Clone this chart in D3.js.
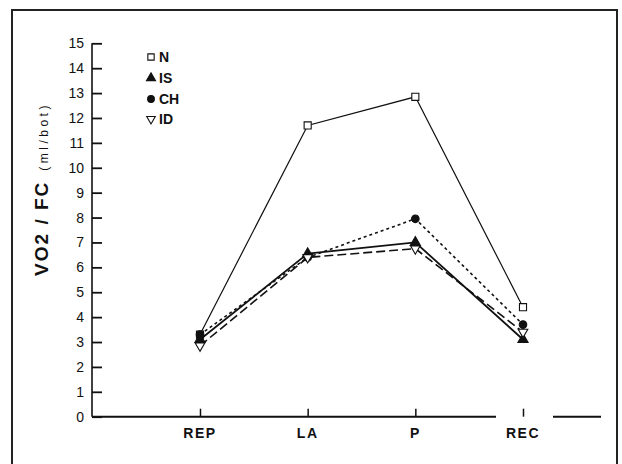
<!DOCTYPE html>
<html><head><meta charset="utf-8">
<script src="https://cdn.jsdelivr.net/npm/d3@7"></script>
<style>
html,body{margin:0;padding:0;background:#fff;}
svg{display:block;font-family:"Liberation Sans",Arial,sans-serif;}
</style></head>
<body><svg id="c" width="622" height="464"></svg>
<script>
const categories = ["REP","LA","P","REC"];
const yTicks = [0,1,2,3,4,5,6,7,8,9,10,11,12,13,14,15];
const seriesNames = ["N","IS","CH","ID"];
const valuesN  = [3.3, 11.7, 12.85, 4.4];
const valuesIS = [3.1, 6.55, 7.0, 3.1];
const valuesCH = [3.3, 6.4, 7.95, 3.7];
const valuesID = [2.85, 6.4, 6.75, 3.4];

const svg = d3.select("#c");
const x0 = 92, x1 = 601, yTop = 43.3, yBot = 416.7;
const y = d3.scaleLinear().domain([0,15]).range([yBot, yTop]);
const x = d3.scalePoint().domain(categories).range([200, 523]);

// frame
svg.append("path").attr("d","M12,464 L12,10 L617,10 L617,464")
  .attr("fill","none").attr("stroke","#222").attr("stroke-width",2);

// y axis
const ya = svg.append("g").attr("transform",`translate(${x0},0)`)
  .call(d3.axisRight(y).tickValues(yTicks).tickSize(10).tickFormat(""));
ya.select(".domain").remove();
ya.selectAll(".tick line").attr("stroke","#111").attr("stroke-width",1.8);
svg.append("line").attr("x1",x0).attr("x2",x0).attr("y1",yTop).attr("y2",yBot)
  .attr("stroke","#111").attr("stroke-width",1.6);
svg.append("g").selectAll("text").data(yTicks).join("text")
  .attr("x",84).attr("y",d=>y(d)+5).attr("text-anchor","end")
  .attr("font-size",14).attr("fill","#111").text(d=>d);

// x axis
svg.append("line").attr("x1",x0).attr("x2",496).attr("y1",yBot).attr("y2",yBot)
  .attr("stroke","#111").attr("stroke-width",2);
svg.append("line").attr("x1",553).attr("x2",x1).attr("y1",yBot).attr("y2",yBot)
  .attr("stroke","#111").attr("stroke-width",2);
const xa = svg.append("g").attr("transform",`translate(0,${yBot})`)
  .call(d3.axisTop(x).tickSize(8).tickFormat(""));
xa.select(".domain").remove();
xa.selectAll(".tick line").attr("stroke","#111").attr("stroke-width",1.5);
svg.append("g").selectAll("text").data(categories).join("text")
  .attr("x",d=>x(d)).attr("y",438).attr("text-anchor","middle")
  .attr("font-size",14).attr("font-weight","bold").attr("letter-spacing",1.5)
  .attr("fill","#111").text(d=>d);

// y title
const t = svg.append("text").attr("transform","translate(48,189) rotate(-90)")
  .attr("text-anchor","middle").attr("fill","#111");
t.append("tspan").attr("font-size",19).attr("font-weight","bold").attr("letter-spacing",2).text("VO2 / FC");
t.append("tspan").attr("font-size",12).attr("letter-spacing",3.5).attr("dx",10).text("(ml/bot)");

// series
const series = [
  {name:"N", vals:valuesN, dash:null, w:1.2, sym:d3.symbolSquare, fill:"#fff", size:50},
  {name:"IS", vals:valuesIS, dash:null, w:1.8, sym:d3.symbolTriangle, fill:"#111", size:45},
  {name:"CH", vals:valuesCH, dash:"3,3", w:1.6, sym:d3.symbolCircle, fill:"#111", size:45},
  {name:"ID", vals:valuesID, dash:"9,4", w:1.6, sym:d3.symbolTriangle, fill:"#fff", size:40, rot:180}
];
const line = d3.line().x((d,i)=>x(categories[i])).y(d=>y(d));
series.forEach(s=>{
  svg.append("path").datum(s.vals).attr("d",line).attr("fill","none")
    .attr("stroke","#111").attr("stroke-width",s.w)
    .attr("stroke-dasharray",s.dash);
});
series.forEach(s=>{
  svg.append("g").selectAll("path").data(s.vals).join("path")
    .attr("d",d3.symbol().type(s.sym).size(s.size))
    .attr("transform",(d,i)=>`translate(${x(categories[i])},${y(d)})${s.rot?` rotate(${s.rot})`:""}`)
    .attr("fill",s.fill).attr("stroke","#111").attr("stroke-width",1.1);
});

// legend
const lg = svg.append("g");
const ly = [57,78,99,119];
series.forEach((s,i)=>{
  lg.append("path").attr("d",d3.symbol().type(s.sym).size(s.size*0.8))
    .attr("transform",`translate(151,${ly[i]})${s.rot?` rotate(${s.rot})`:""}`)
    .attr("fill",s.fill).attr("stroke","#111").attr("stroke-width",1.1);
  lg.append("text").attr("x",159).attr("y",ly[i]+5).attr("font-size",14)
    .attr("font-weight","bold").attr("fill","#111").text(seriesNames[i]);
});
</script></body></html>
